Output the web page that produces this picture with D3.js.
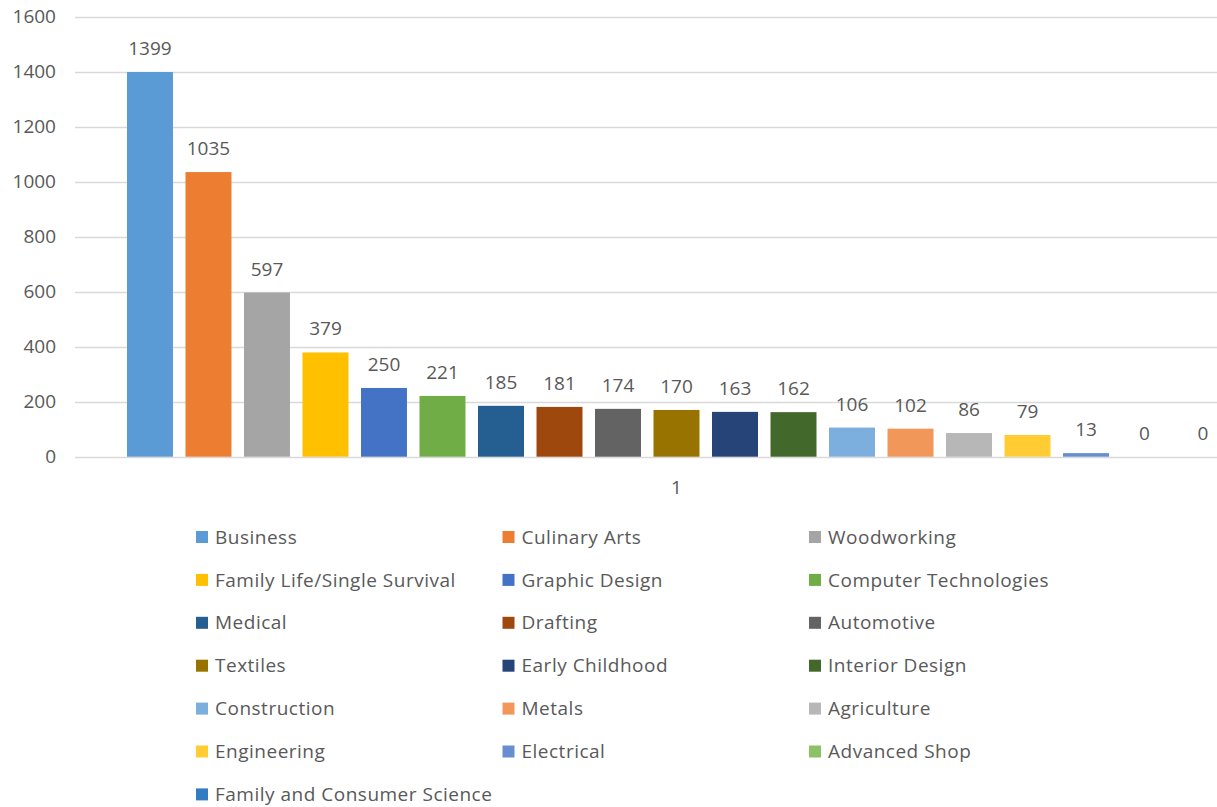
<!DOCTYPE html>
<html>
<head>
<meta charset="utf-8">
<script src="https://cdn.jsdelivr.net/npm/d3@7"></script>
<style>
  body { margin: 0; background: #fff; }
  text { font-family: "Open Sans", "Noto Sans", sans-serif; fill: #595959; }
</style>
</head>
<body>
<svg id="chart" width="1217" height="807"></svg>
<script>
var categories = ["1"];
var seriesNames = ["Business", "Culinary Arts", "Woodworking", "Family Life/Single Survival",
  "Graphic Design", "Computer Technologies", "Medical", "Drafting", "Automotive", "Textiles",
  "Early Childhood", "Interior Design", "Construction", "Metals", "Agriculture", "Engineering",
  "Electrical", "Advanced Shop", "Family and Consumer Science"];
var seriesValues = [1399, 1035, 597, 379, 250, 221, 185, 181, 174, 170, 163, 162, 106, 102, 86, 79, 13, 0, 0];
var seriesColors = ["#5B9BD5", "#ED7D31", "#A5A5A5", "#FFC000", "#4472C4", "#70AD47", "#255E91",
  "#9E480E", "#636363", "#997300", "#264478", "#43682B", "#7CAFDD", "#F1975A", "#B7B7B7",
  "#FFCD33", "#698ED0", "#8CC168", "#327DC2"];
var yTicks = [0, 200, 400, 600, 800, 1000, 1200, 1400, 1600];

(function () {
  var svg = d3.select("#chart");
  var left = 75, right = 1278, top = 16.7, bottom = 456.7;

  var y = d3.scaleLinear().domain([0, 1600]).range([bottom, top]);

  // outer scale: the single category, inner scale: the series in it
  var x0 = d3.scaleBand().domain(categories).range([left, right]).paddingInner(0).paddingOuter(0.0473);
  var x1 = d3.scaleBand().domain(seriesNames).range([0, x0.bandwidth()]).paddingInner(0.214).paddingOuter(0);

  // gridlines
  svg.append("g").selectAll("line").data(yTicks).enter().append("line")
    .attr("x1", left).attr("x2", 1217)
    .attr("y1", function (d) { return Math.round(y(d)) + 0.5; })
    .attr("y2", function (d) { return Math.round(y(d)) + 0.5; })
    .attr("stroke", "#D9D9D9").attr("stroke-width", 1.3);

  // y tick labels
  svg.append("g").selectAll("text").data(yTicks).enter().append("text")
    .attr("x", 56).attr("y", function (d) { return y(d); })
    .attr("dy", "0.35em").attr("text-anchor", "end")
    .style("font-size", "19px")
    .text(function (d) { return d; });

  var rows = seriesNames.map(function (name, i) {
    return {name: name, value: seriesValues[i], color: seriesColors[i]};
  });

  var group = svg.append("g").attr("transform", "translate(" + x0("1") + ",0)");

  group.selectAll("rect").data(rows).enter().append("rect")
    .attr("x", function (d) { return x1(d.name); })
    .attr("width", x1.bandwidth())
    .attr("y", function (d) { return y(d.value); })
    .attr("height", function (d) { return y(0) - y(d.value); })
    .attr("fill", function (d) { return d.color; });

  group.selectAll("text.val").data(rows).enter().append("text")
    .attr("class", "val")
    .attr("x", function (d) { return x1(d.name) + x1.bandwidth() / 2; })
    .attr("y", function (d) { return y(d.value) - 17; })
    .attr("text-anchor", "middle")
    .style("font-size", "19px")
    .text(function (d) { return d.value; });

  // category label
  svg.append("text")
    .attr("x", x0("1") + x0.bandwidth() / 2).attr("y", 494)
    .attr("text-anchor", "middle")
    .style("font-size", "19px")
    .text(categories[0]);

  // legend, three columns
  var legend = svg.append("g");
  var item = legend.selectAll("g").data(rows).enter().append("g")
    .attr("transform", function (d, i) {
      return "translate(" + (196 + (i % 3) * 306.5) + "," + (537 + Math.floor(i / 3) * 42.9) + ")";
    });
  item.append("rect")
    .attr("x", 0).attr("y", -6).attr("width", 12).attr("height", 12)
    .attr("fill", function (d) { return d.color; });
  item.append("text")
    .attr("x", 19).attr("y", 0).attr("dy", "0.35em")
    .style("font-size", "19px")
    .style("letter-spacing", "0.5px")
    .text(function (d) { return d.name; });
})();
</script>
</body>
</html>
